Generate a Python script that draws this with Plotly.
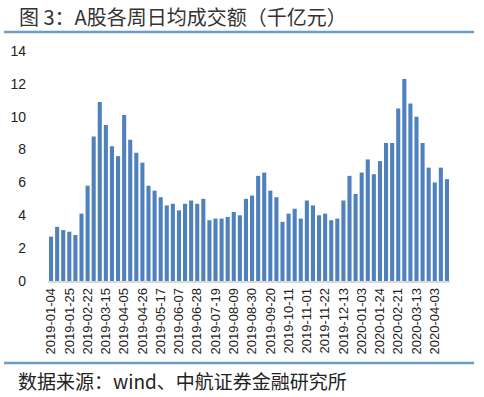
import plotly.graph_objects as go
import datetime as dt

# weekly dates (Fridays), skipping Spring Festival weeks
start = dt.date(2019, 1, 4)
skip = {dt.date(2019, 2, 8), dt.date(2020, 1, 31)}
dates = []
d = start
while d <= dt.date(2020, 4, 17):
    if d not in skip:
        dates.append(d.strftime("%Y-%m-%d"))
    d += dt.timedelta(days=7)

values = [2.7, 3.3, 3.1, 3.0, 2.8, 4.1, 5.8, 8.8, 10.9, 9.5,
          8.2, 7.6, 10.1, 8.6, 7.8, 7.2, 5.8, 5.5, 5.1, 4.6,
          4.7, 4.3, 4.7, 4.9, 4.7, 5.0, 3.7, 3.8, 3.8, 3.9,
          4.2, 4.0, 5.0, 5.2, 6.4, 6.6, 5.5, 5.1, 3.6, 4.1,
          4.4, 3.8, 4.9, 4.6, 4.0, 4.1, 3.7, 3.8, 4.9, 6.4,
          5.3, 6.6, 7.4, 6.5, 7.3, 8.4, 8.4, 10.5, 12.3, 10.8,
          10.0, 8.4, 6.9, 6.0, 6.9, 6.2]

tick_labels = dates[::3]
y_ticks = [0, 2, 4, 6, 8, 10, 12, 14]

title_text = "图 3：A股各周日均成交额（千亿元）"
source_text = "数据来源：wind、中航证券金融研究所"

fig = go.Figure()
fig.add_trace(go.Bar(x=dates, y=values, marker_color="#4F81BD",
                     marker_line_width=0))

fig.update_layout(
    width=484, height=397,
    margin=dict(l=48, r=34, t=51, b=116, autoexpand=False),
    paper_bgcolor="white", plot_bgcolor="white",
    bargap=0.33, showlegend=False,
    font=dict(family="Liberation Sans, Arial", color="#222"),
    xaxis=dict(type="category", tickmode="array", tickvals=tick_labels,
               ticktext=tick_labels, tickangle=-90,
               tickfont=dict(size=13, family="Liberation Sans, Arial", color="#222"),
               showline=True, linecolor="#D9D9D9", linewidth=1.5,
               showgrid=False, ticks="", range=[-0.5, len(dates) - 0.5]),
    yaxis=dict(range=[0, 14], tickmode="array", tickvals=y_ticks,
               tickfont=dict(size=14, family="Liberation Sans, Arial", color="#222"),
               showgrid=False, zeroline=False, showline=False, ticks="",
               ticklabelstandoff=21),
)

fig.add_annotation(text=title_text, xref="paper", yref="paper",
                   x=-31/402, y=1 + 34/230, xanchor="left", yanchor="middle",
                   showarrow=False,
                   font=dict(size=20, family="Noto Sans CJK SC", color="#333"))
fig.add_annotation(text=source_text, xref="paper", yref="paper",
                   x=-32/402, y=-(380-281)/230, xanchor="left", yanchor="middle",
                   showarrow=False,
                   font=dict(size=19, family="Noto Sans CJK SC", color="#222"))

for yy in (32, 363):
    fig.add_shape(type="line", xref="paper", yref="paper",
                  x0=-44/402, x1=(474-48)/402,
                  y0=(281-yy)/230, y1=(281-yy)/230,
                  line=dict(color="#6A9CC9", width=2.5))

fig.write_html("out.html", config={"displayModeBar": False},
               post_script="document.body.style.margin='0';document.body.style.padding='0';")
